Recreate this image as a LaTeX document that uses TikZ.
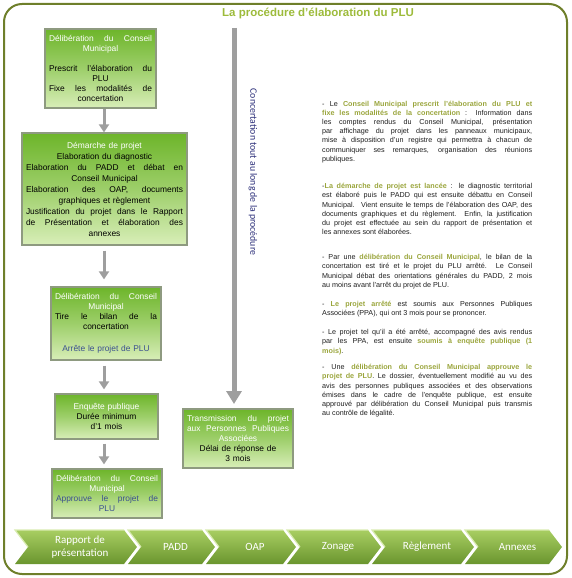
\documentclass[tikz,border=0pt]{standalone}
\usepackage{fontspec}
\setmainfont{Liberation Sans}
\newfontfamily\calib{Carlito}
\usetikzlibrary{arrows.meta,calc}
\definecolor{framec}{HTML}{6E7F2A}
\definecolor{titlec}{HTML}{9DBB3B}
\definecolor{boxtop}{HTML}{6DB52A}
\definecolor{boxbot}{HTML}{D8EEB8}
\definecolor{boxline}{HTML}{8E9A80}
\definecolor{bluet}{HTML}{3A4F8F}
\definecolor{navyt}{HTML}{2A2D78}
\definecolor{arrowc}{HTML}{9E9E9E}
\definecolor{hlc}{HTML}{9AA53C}
\definecolor{txtc}{HTML}{1E1E1E}
\definecolor{chevtop}{HTML}{A8CE62}
\definecolor{chevbot}{HTML}{6A952E}
\definecolor{chevhl}{HTML}{D8EBB0}
\newcommand\hlt[1]{\textcolor{hlc}{\textbf{#1}}}
\newcommand\parset{\hyphenpenalty=10000\relax\tolerance=9000\relax}
\begin{document}
\begin{tikzpicture}[x=1pt,y=1pt,
 gbox/.style={draw=boxline,line width=1.2pt,top color=boxtop,bottom color=boxbot,middle color=boxtop!55!boxbot,align=center,inner xsep=4pt,inner ysep=2pt,font=\fontsize{8.4}{10}\selectfont,text=black},
 garrow/.style={draw=arrowc,line width=3pt,-{Triangle[width=10pt,length=8pt]}},
 bigarrow/.style={draw=arrowc,line width=5pt,-{Triangle[width=15pt,length=13pt]}},
 para/.style={anchor=north west,inner sep=0pt,text width=210pt,align=justify,font=\fontsize{7.2}{9.2}\selectfont,text=txtc},
 chev/.style={top color=chevtop,bottom color=chevbot},
 chevtext/.style={text=white,font=\calib\fontsize{11}{12.5}\selectfont,align=center,inner sep=0pt}
]
\useasboundingbox (0,0) rectangle (571,-578);
\draw[framec,line width=2pt,rounded corners=18pt] (4,-4) rectangle (567,-574);
\node[text=titlec,font=\bfseries\fontsize{11.5}{13}\selectfont] (title) at (318,-13) {La procédure d’élaboration du PLU};

% left column boxes
\node[gbox,minimum width=111pt,minimum height=79pt,text width=103pt] (b1) at (100.5,-68.5)
 {{\color{white}Délibération\hfill du\hfill Conseil\\Municipal}\\[10pt]
  Prescrit\hfill l’élaboration\hfill du\\PLU\\Fixe\hfill les\hfill modalités\hfill de\\concertation};
\node[gbox,minimum width=165pt,minimum height=112pt,text width=157pt,font=\fontsize{8.4}{11}\selectfont] (b2) at (104.5,-189)
 {{\color{white}Démarche de projet}\\
  Elaboration du diagnostic\\
  Elaboration\hfill du\hfill PADD\hfill et\hfill débat\hfill en\\Conseil Municipal\\
  Elaboration\hfill des\hfill OAP,\hfill documents\\graphiques et règlement\\
  Justification\hfill du\hfill projet\hfill dans\hfill le\hfill Rapport\\de\hfill Présentation\hfill et\hfill élaboration\hfill des\\annexes};
\node[gbox,minimum width=110pt,minimum height=73pt,text width=102pt] (b3) at (106,-323.5)
 {{\color{white}Délibération\hfill du\hfill Conseil\\Municipal}\\
  Tire\hfill le\hfill bilan\hfill de\hfill la\\concertation\\[12pt]
  {\color{bluet}Arrête le projet de PLU}};
\node[gbox,minimum width=103pt,minimum height=45pt,text width=95pt] (b4) at (106.5,-416.5)
 {{\color{white}Enquête publique}\\Durée minimum\\d’1 mois};
\node[gbox,minimum width=110pt,minimum height=49pt,text width=102pt] (b5) at (107,-493.5)
 {{\color{white}Délibération\hfill du\hfill Conseil\\Municipal}\\
  {\color{bluet}Approuve\hfill le\hfill projet\hfill de\\PLU}};
\node[gbox,minimum width=110pt,minimum height=59pt,text width=102pt] (b6) at (238,-438.5)
 {{\color{white}Transmission\hfill du\hfill projet\\aux\hfill Personnes\hfill Publiques\\Associées}\\
  Délai de réponse de\\3 mois};

% left arrows
\coordinate (ax) at (104,0);
\draw[garrow] (b1.south -| ax) -- (b2.north -| ax);
\draw[garrow,shorten <=5pt,shorten >=7pt] (b2.south -| ax) -- (b3.north -| ax);
\draw[garrow,shorten <=5pt,shorten >=4pt] (b3.south -| ax) -- (b4.north -| ax);
\draw[garrow,shorten <=4pt,shorten >=4pt] (b4.south -| ax) -- (b5.north -| ax);

% concertation arrow
\coordinate (ctop) at (234,-28);
\coordinate (cbot) at (234,-404);
\draw[bigarrow] (ctop) -- (cbot);
\node[rotate=-90,text=navyt,font=\calib\fontsize{9.8}{11}\selectfont] (conc) at (253,-172) {Concertation tout au long de la procédure};

% right text
\node[para] (p1) at (322,-99.5) {\parset\strut- Le \hlt{Conseil Municipal prescrit l’élaboration du PLU et}\linebreak
 \hlt{fixe les modalités de la concertation} : Information dans\linebreak
 les comptes rendus du Conseil Municipal, présentation\linebreak
 par affichage du projet dans les panneaux municipaux,\linebreak
 mise à disposition d’un registre qui permettra à chacun de\linebreak
 communiquer ses remarques, organisation des réunions\linebreak
 publiques.};
\node[para] (p2) at (322,-182) {\parset\strut-\hlt{La démarche de projet est lancée} : le diagnostic territorial\linebreak
 est élaboré puis le PADD qui est ensuite débattu en Conseil\linebreak
 {\spaceskip=0.12em plus 0.2em minus 0.05em Municipal. Vient ensuite le temps de l’élaboration des OAP, des}\linebreak
 documents graphiques et du règlement. Enfin, la justification\linebreak
 du projet est effectuée au sein du rapport de présentation et\linebreak
 les annexes sont élaborées.};
\node[para] (p3) at (322,-253) {\parset\strut- Par une \hlt{délibération du Conseil Municipal}, le bilan de la\linebreak
 concertation est tiré et le projet du PLU arrêté. Le Conseil\linebreak
 Municipal débat des orientations générales du PADD, 2 mois\linebreak
 au moins avant l’arrêt du projet de PLU.};
\node[para] (p4) at (322,-300) {\parset\strut- \hlt{Le projet arrêté} est soumis aux Personnes Publiques\linebreak
 Associées (PPA), qui ont 3 mois pour se prononcer.};
\node[para] (p5) at (322,-328) {\parset\strut- Le projet tel qu’il a été arrêté, accompagné des avis rendus\linebreak
 par les PPA, est ensuite \hlt{soumis à enquête publique (1}\linebreak
 \hlt{mois)}.};
\node[para] (p6) at (322,-363) {\parset\strut- Une \hlt{délibération du Conseil Municipal approuve le}\linebreak
 \hlt{projet de PLU}. Le dossier, éventuellement modifié au vu des\linebreak
 avis des personnes publiques associées et des observations\linebreak
 émises dans le cadre de l’enquête publique, est ensuite\linebreak
 approuvé par délibération du Conseil Municipal puis transmis\linebreak
 au contrôle de légalité.};

% chevrons
\foreach \L/\R/\T/\n in {15/137/{Rapport de\\présentation}/c1, 128/215/PADD/c2, 206/296/OAP/c3, 287/381/Zonage/c4, 372/474/Règlement/c5, 465/562/Annexes/c6}{
 \path[chev] (\L,-530) -- ({\R-13},-530) -- (\R,-547) -- ({\R-13},-564) -- (\L,-564) -- ({\L+13},-547) -- cycle;
 \draw[chevhl,line width=1.2pt] ({\L+13},-547) -- (\L,-530) -- ({\R-13},-530);
 \node[chevtext] (\n) at ({(\L+\R)/2+4},-547) {\T};
}
\end{tikzpicture}
\end{document}
